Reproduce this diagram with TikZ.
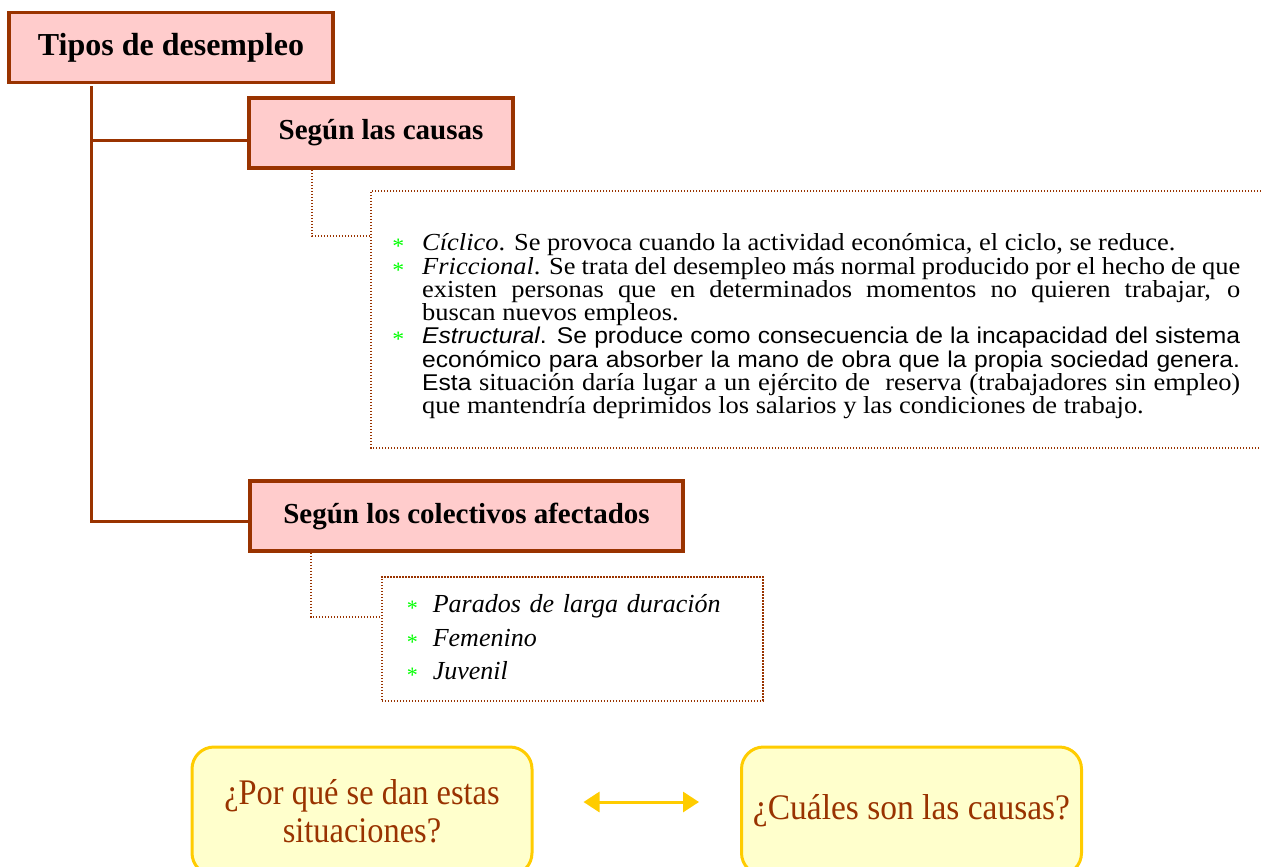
\documentclass[tikz,border=0pt]{standalone}
\usepackage{fontspec}
\setmainfont{Liberation Serif}
\newfontfamily\wideserif{Liberation Serif}[FakeStretch=1.08]
\newfontfamily\arialfont{Liberation Sans}[FakeStretch=1.08]
\newfontfamily\narrowfont{Liberation Serif}[FakeStretch=0.93]
\newfontfamily\narrowerfont{Liberation Serif}[FakeStretch=0.9]
\usetikzlibrary{arrows.meta, positioning}

\definecolor{darkbrown}{HTML}{993300}
\definecolor{pinkfill}{HTML}{FFCCCC}
\definecolor{goldline}{HTML}{FFCC00}
\definecolor{creamfill}{HTML}{FFFFCC}
\definecolor{stargreen}{HTML}{00FF00}

\newcommand{\greenstar}{\raisebox{-3pt}{\textcolor{stargreen}{\upshape\fontsize{22}{22}\selectfont *}}}

\begin{document}
\begin{tikzpicture}[x=1pt, y=-1pt,
  mainbox/.style={draw=darkbrown, line width=3.5pt, fill=pinkfill, minimum height=70pt,
    inner sep=0pt, font=\bfseries\fontsize{29}{33}\selectfont},
  trunk/.style={darkbrown, line width=3pt},
  dotline/.style={draw=darkbrown, line width=1.6pt, dash pattern=on 1.4pt off 1.6pt},
  qbox/.style={draw=goldline, line width=3pt, fill=creamfill, rounded corners=22pt,
    minimum width=340pt, minimum height=128pt, text=darkbrown, align=center,
    font=\narrowfont\fontsize{36}{38}\selectfont},
  twoway/.style={goldline, line width=3pt,
    {Triangle[length=16pt,width=20pt]}-{Triangle[length=16pt,width=20pt]}}]

  \useasboundingbox (0,0) rectangle (1261,867);

  % boxes
  \node[mainbox, minimum width=324pt, font=\bfseries\fontsize{32}{36}\selectfont] (tipos) at (171,47.5) {Tipos de desempleo};
  \node[mainbox, minimum width=264pt] (causas) at (381,133) {Según las causas};
  \node[mainbox, minimum width=433pt] (colect) at (466.5,516) {Según los colectivos afectados};

  \draw[trunk] ([xshift=-80pt,yshift=-2pt]tipos.south) |- ([yshift=-7pt]causas.west);
  \draw[trunk] ([xshift=-80pt,yshift=-2pt]tipos.south) |- ([yshift=-5pt]colect.west);

  % first list
  \coordinate (f1a) at (371,191);
  \coordinate (f1b) at (371,448);
  \coordinate (c1) at (371,236);
  \draw[dotline] (1261,191) -- (f1a) -- (f1b) -- (1261,448);
  \draw[dotline] ([xshift=-69pt]causas.south) |- (c1);

  \node[anchor=north west, inner sep=0pt, text width=818pt, align=justify,
    font=\wideserif\fontsize{24.5}{23.3}\selectfont] (clist) at (422,233.5) {%
    \leavevmode\llap{\greenstar\hspace{18pt}}\textit{Cíclico}. Se provoca cuando la actividad económica, el ciclo, se reduce.\par
    \leavevmode\llap{\greenstar\hspace{18pt}}\textit{Friccional}. Se trata del desempleo más normal producido por el hecho de que\linebreak
    existen personas que en determinados momentos no quieren trabajar, o\linebreak
    buscan nuevos empleos.\par
    \leavevmode\llap{\greenstar\hspace{18pt}}{\arialfont\fontsize{22.8}{23.3}\selectfont\textit{Estructural}. Se produce como consecuencia de la incapacidad del sistema\linebreak
    económico para absorber la mano de obra que la propia sociedad genera.\linebreak
    Esta} situación daría lugar a un ejército de~ reserva (trabajadores sin empleo)\linebreak
    que mantendría deprimidos los salarios y las condiciones de trabajo.};

  % second list
  \node[dotline, anchor=north west, minimum width=381pt, minimum height=124pt,
    text width=331pt, inner xsep=25pt, align=left, text=black,
    font=\itshape\fontsize{26}{33.5}\selectfont] (glist) at (381,576) {%
    \makebox[26pt][l]{\greenstar}Parados de larga duración\\
    \makebox[26pt][l]{\greenstar}Femenino\\
    \makebox[26pt][l]{\greenstar}Juvenil};
  \coordinate (c2) at (381,617);
  \draw[dotline] ([xshift=-155.5pt]colect.south) |- (c2);

  % questions
  \node[qbox, font=\narrowerfont\fontsize{36}{38}\selectfont] (porque) at (362,811) {¿Por qué se dan estas\\situaciones?};
  \node[qbox] (cuales) at (911.5,811) {\raisebox{-6pt}{¿Cuáles son las causas?}};
  \draw[twoway] ([xshift=50pt,yshift=9pt]porque.east) -- ([xshift=-41pt,yshift=9pt]cuales.west);
\end{tikzpicture}
\end{document}
